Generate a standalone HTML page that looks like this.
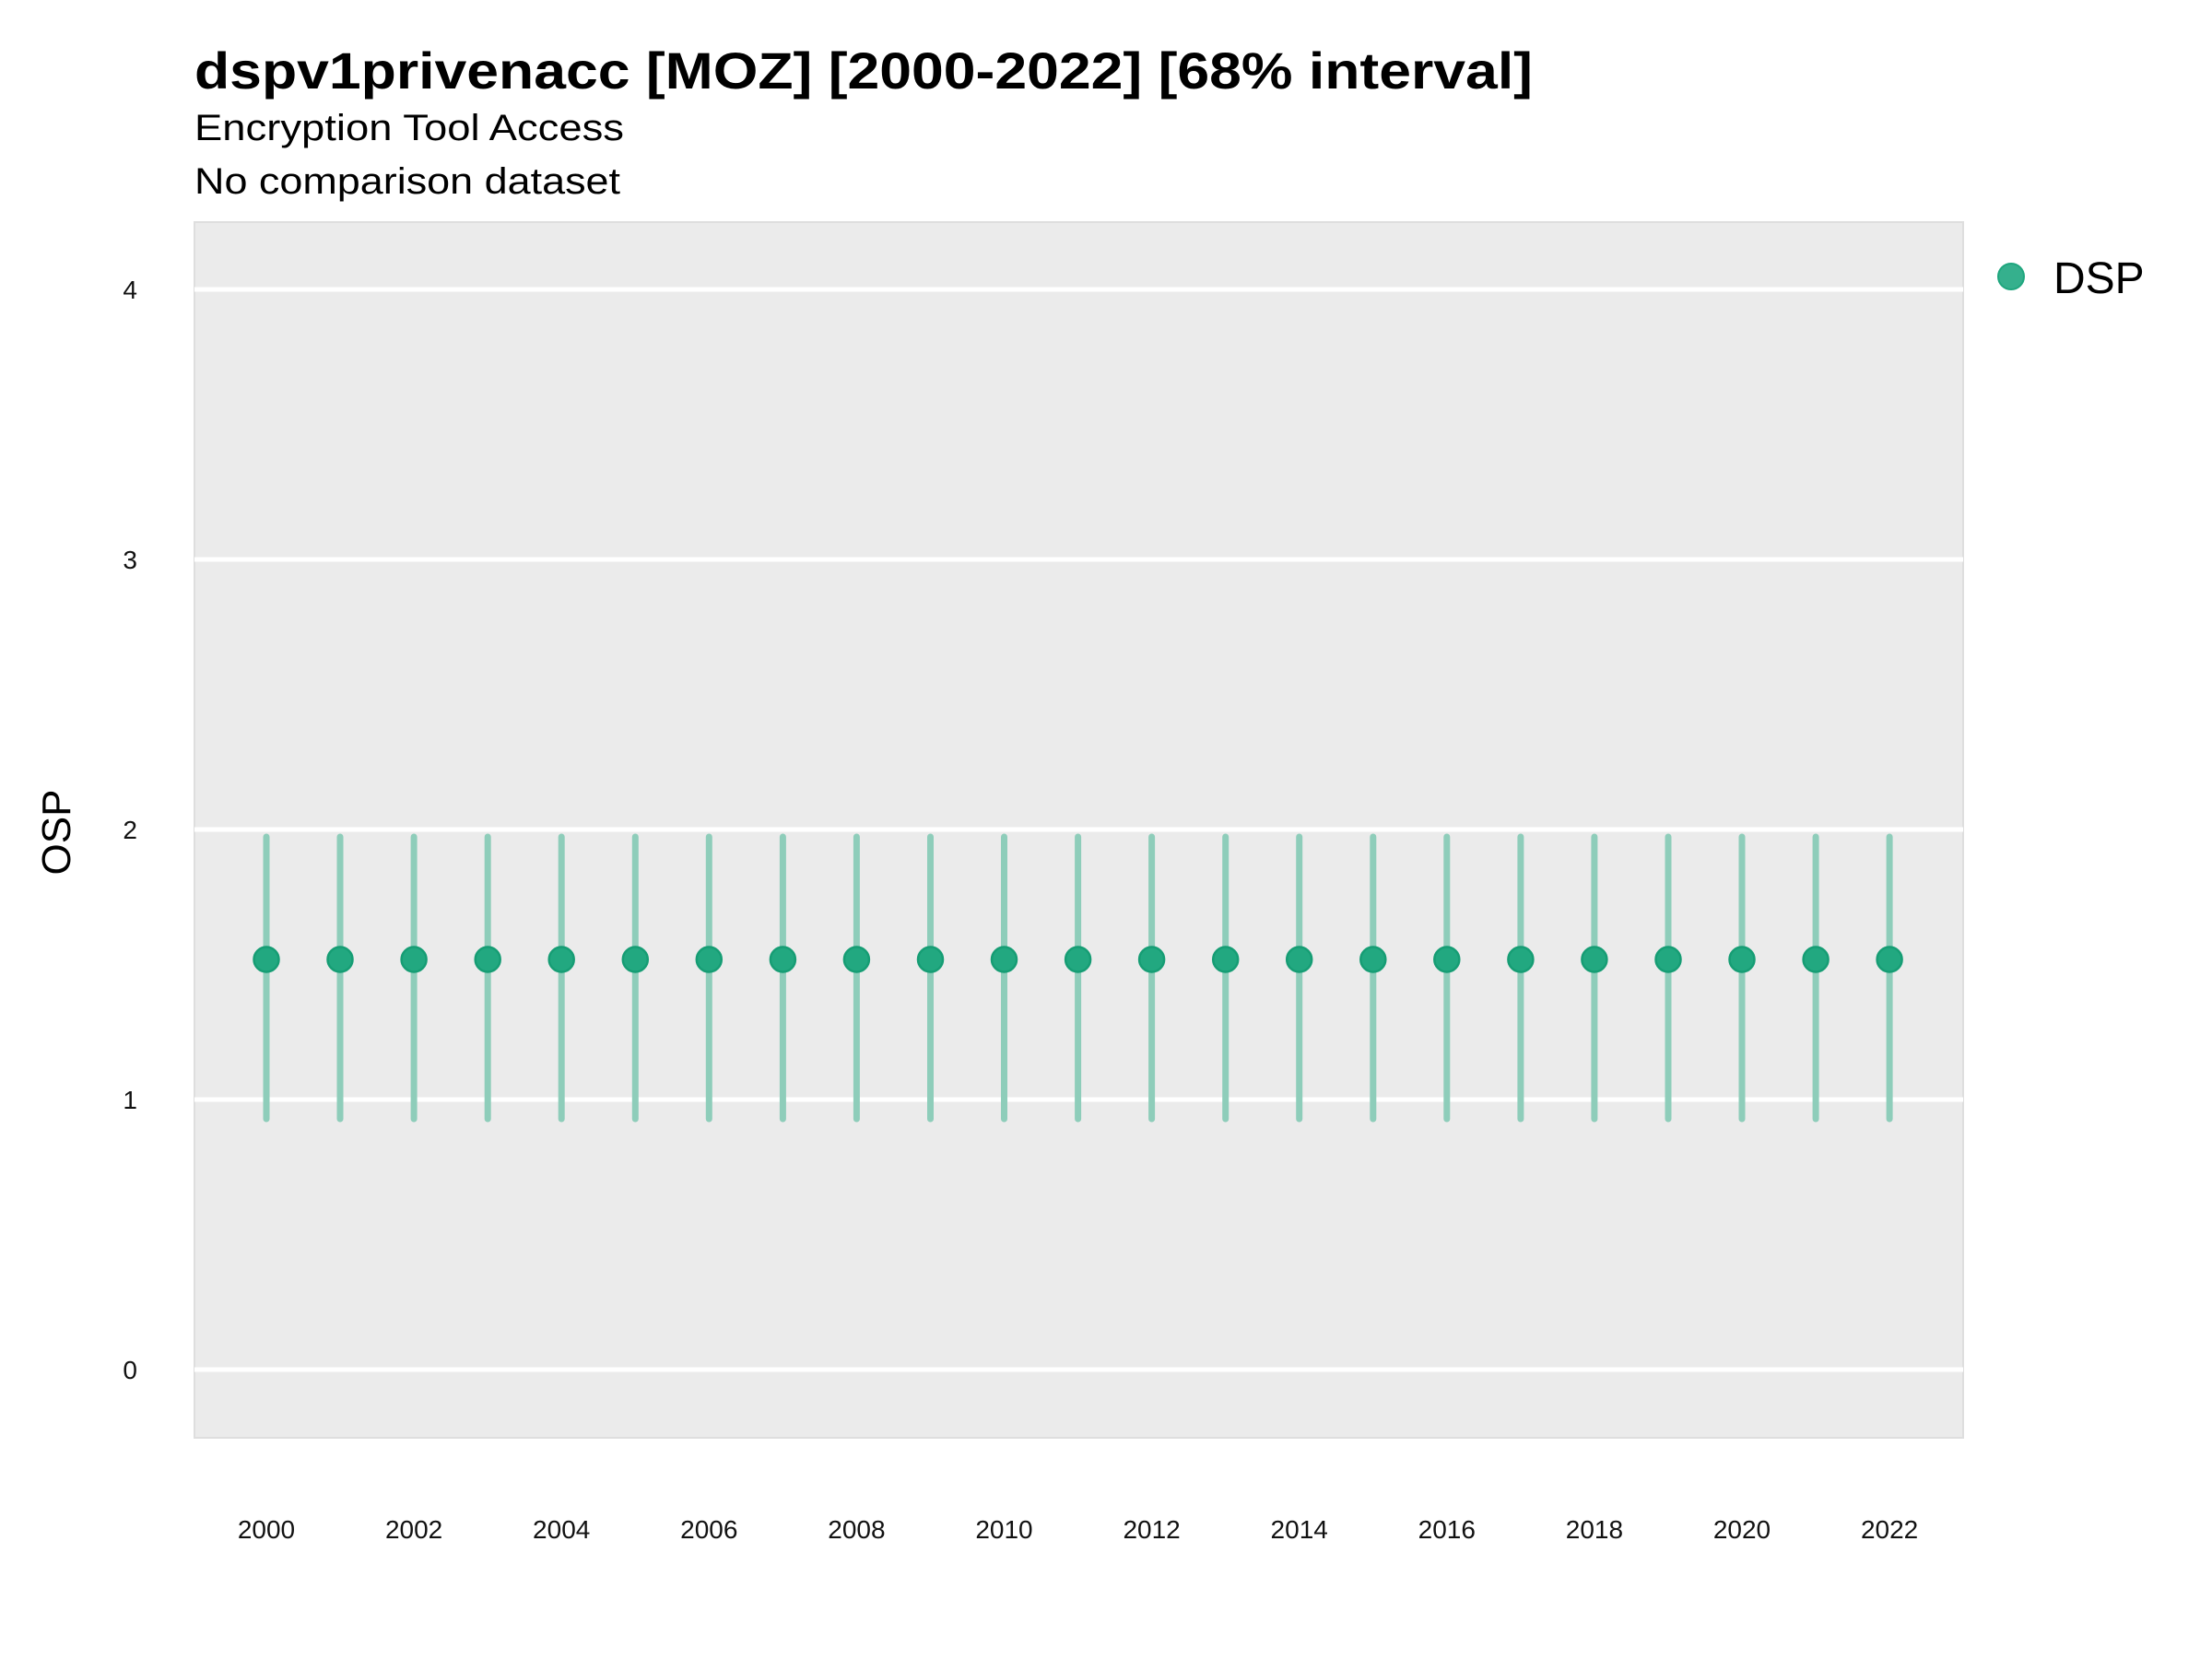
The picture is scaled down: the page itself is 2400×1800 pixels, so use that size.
<!DOCTYPE html>
<html><head><meta charset="utf-8"><style>html,body{margin:0;padding:0;background:#fff}svg{display:block}</style></head>
<body>
<svg width="2400" height="1800" viewBox="0 0 2400 1800" xmlns="http://www.w3.org/2000/svg" font-family="Liberation Sans, sans-serif">
<rect x="211" y="241" width="1919" height="1319" fill="#ebebeb" stroke="#dedede" stroke-width="2"/>
<g stroke="#fff" stroke-width="5">
<line x1="211" x2="2130" y1="314" y2="314"/>
<line x1="211" x2="2130" y1="607" y2="607"/>
<line x1="211" x2="2130" y1="900" y2="900"/>
<line x1="211" x2="2130" y1="1193" y2="1193"/>
<line x1="211" x2="2130" y1="1486" y2="1486"/>
</g>
<g font-size="28" text-anchor="end" fill="#111">
<text x="149" y="324">4</text><text x="149" y="617">3</text><text x="149" y="910">2</text><text x="149" y="1203">1</text><text x="149" y="1496">0</text>
</g>
<g stroke="#8ecdba" stroke-width="7" stroke-linecap="round">
<line x1="289" x2="289" y1="908" y2="1214"/><line x1="369" x2="369" y1="908" y2="1214"/><line x1="449.1" x2="449.1" y1="908" y2="1214"/><line x1="529.2" x2="529.2" y1="908" y2="1214"/><line x1="609.2" x2="609.2" y1="908" y2="1214"/><line x1="689.3" x2="689.3" y1="908" y2="1214"/><line x1="769.3" x2="769.3" y1="908" y2="1214"/><line x1="849.4" x2="849.4" y1="908" y2="1214"/><line x1="929.4" x2="929.4" y1="908" y2="1214"/><line x1="1009.5" x2="1009.5" y1="908" y2="1214"/><line x1="1089.5" x2="1089.5" y1="908" y2="1214"/><line x1="1169.6" x2="1169.6" y1="908" y2="1214"/><line x1="1249.6" x2="1249.6" y1="908" y2="1214"/><line x1="1329.7" x2="1329.7" y1="908" y2="1214"/><line x1="1409.7" x2="1409.7" y1="908" y2="1214"/><line x1="1489.8" x2="1489.8" y1="908" y2="1214"/><line x1="1569.8" x2="1569.8" y1="908" y2="1214"/><line x1="1649.9" x2="1649.9" y1="908" y2="1214"/><line x1="1729.9" x2="1729.9" y1="908" y2="1214"/><line x1="1810" x2="1810" y1="908" y2="1214"/><line x1="1890" x2="1890" y1="908" y2="1214"/><line x1="1970.1" x2="1970.1" y1="908" y2="1214"/><line x1="2050.1" x2="2050.1" y1="908" y2="1214"/>
</g>
<g fill="#22a880" stroke="#169d74" stroke-width="2.5">
<circle cx="289" cy="1041" r="13.5"/><circle cx="369" cy="1041" r="13.5"/><circle cx="449.1" cy="1041" r="13.5"/><circle cx="529.2" cy="1041" r="13.5"/><circle cx="609.2" cy="1041" r="13.5"/><circle cx="689.3" cy="1041" r="13.5"/><circle cx="769.3" cy="1041" r="13.5"/><circle cx="849.4" cy="1041" r="13.5"/><circle cx="929.4" cy="1041" r="13.5"/><circle cx="1009.5" cy="1041" r="13.5"/><circle cx="1089.5" cy="1041" r="13.5"/><circle cx="1169.6" cy="1041" r="13.5"/><circle cx="1249.6" cy="1041" r="13.5"/><circle cx="1329.7" cy="1041" r="13.5"/><circle cx="1409.7" cy="1041" r="13.5"/><circle cx="1489.8" cy="1041" r="13.5"/><circle cx="1569.8" cy="1041" r="13.5"/><circle cx="1649.9" cy="1041" r="13.5"/><circle cx="1729.9" cy="1041" r="13.5"/><circle cx="1810" cy="1041" r="13.5"/><circle cx="1890" cy="1041" r="13.5"/><circle cx="1970.1" cy="1041" r="13.5"/><circle cx="2050.1" cy="1041" r="13.5"/>
</g>
<g font-size="28" text-anchor="middle" fill="#111">
<text x="289" y="1669">2000</text><text x="449.1" y="1669">2002</text><text x="609.2" y="1669">2004</text><text x="769.3" y="1669">2006</text><text x="929.4" y="1669">2008</text><text x="1089.5" y="1669">2010</text><text x="1249.6" y="1669">2012</text><text x="1409.7" y="1669">2014</text><text x="1569.8" y="1669">2016</text><text x="1729.9" y="1669">2018</text><text x="1890" y="1669">2020</text><text x="2050.1" y="1669">2022</text>
</g>
<text x="211" y="96" font-size="56" font-weight="bold" textLength="1452" lengthAdjust="spacingAndGlyphs">dspv1privenacc [MOZ] [2000-2022] [68% interval]</text>
<text x="211" y="152" font-size="40" textLength="466" lengthAdjust="spacingAndGlyphs">Encryption Tool Access</text>
<text x="211" y="210" font-size="40" textLength="462" lengthAdjust="spacingAndGlyphs">No comparison dataset</text>
<text transform="translate(76,903) rotate(-90)" font-size="44" text-anchor="middle">OSP</text>
<circle cx="2182" cy="300" r="14" fill="#35b08d" stroke="#1fa67e" stroke-width="2"/>
<text x="2228" y="318" font-size="48">DSP</text>
</svg>
</body></html>
